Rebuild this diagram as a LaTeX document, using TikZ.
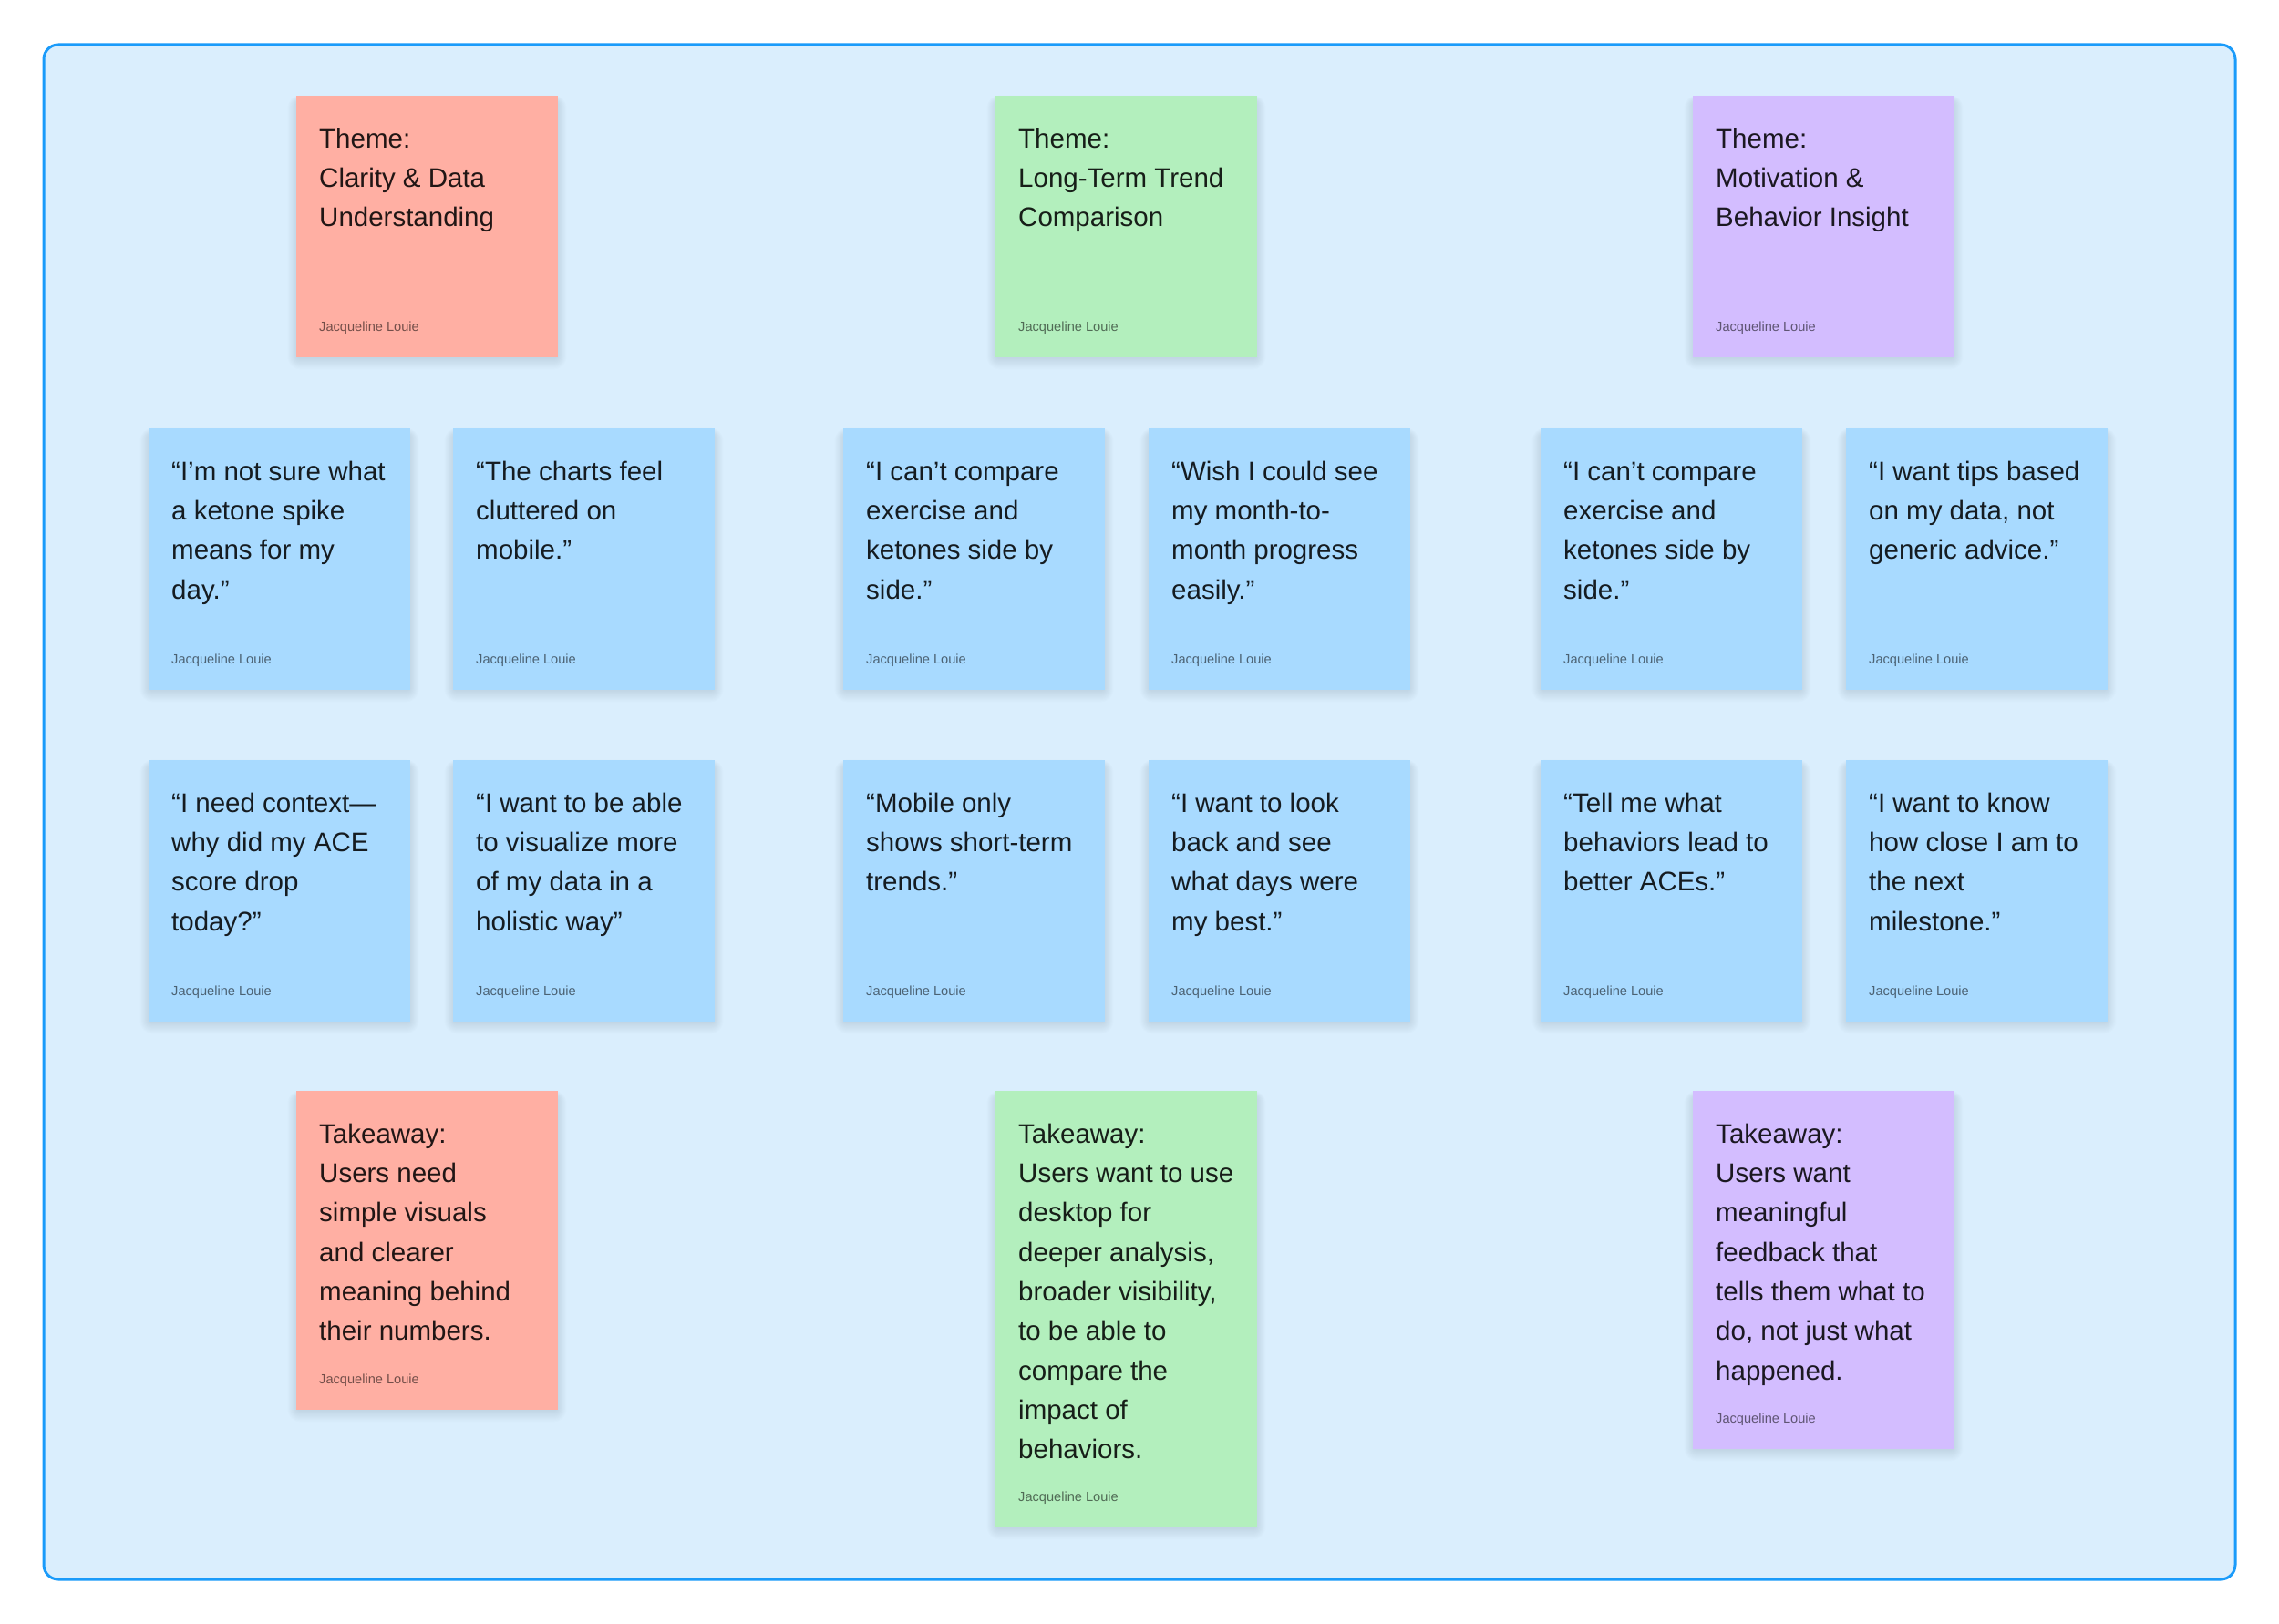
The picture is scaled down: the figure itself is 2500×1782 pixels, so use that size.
\documentclass[tikz,border=0pt]{standalone}
\usepackage{fontspec}
\setmainfont{Liberation Sans}
\definecolor{framefill}{HTML}{DAEEFD}
\definecolor{frameline}{HTML}{1A9BFA}
\definecolor{stRed}{HTML}{FFAFA3}
\definecolor{stGreen}{HTML}{B3EFBD}
\definecolor{stPurple}{HTML}{D3BDFF}
\definecolor{stBlue}{HTML}{A8DAFF}
\tikzset{
  note/.style={rectangle, inner sep=0pt, minimum width=287pt, draw=none},
  notetext/.style={anchor=north west, inner sep=0pt, align=left,
    font=\fontsize{29.5}{43.3}\selectfont, text=black, text opacity=0.87},
  author/.style={anchor=base west, inner sep=0pt,
    font=\fontsize{14.6}{16}\selectfont, text=black, text opacity=0.55},
  section/.style={fill=framefill, draw=frameline, line width=3pt, rounded corners=16pt},
}
\newcommand\stickynote[6]{%
  \foreach \s in {1,...,14}{\fill[black, opacity=0.0065, rounded corners=\s pt]
    (#2+3-\s*0.9, #3+8-\s*0.6) rectangle (#2+284+\s*0.9, #3+#4-2+\s*1.1);}
  \node[note, fill=#5, minimum height=#4pt, anchor=north west] (#1) at (#2,#3) {};
  \node[notetext] (#1-text) at ([xshift=25pt,yshift=-27pt]#1.north west) {\rule{0pt}{30pt}#6};
  \node[author] (#1-author) at ([xshift=25pt,yshift=29pt]#1.south west) {Jacqueline Louie};
}
\begin{document}
\begin{tikzpicture}[x=1pt,y=-1pt]
\useasboundingbox (0,0) rectangle (2500,1782);
\fill[white] (0,0) rectangle (2500,1782);
\draw[section] (48,49) rectangle (2452,1733);

% themes
\stickynote{th1}{325}{105}{287}{stRed}{Theme:\\Clarity \& Data\\Understanding}
\stickynote{th2}{1092}{105}{287}{stGreen}{Theme:\\Long-Term Trend\\Comparison}
\stickynote{th3}{1857}{105}{287}{stPurple}{Theme:\\Motivation \&\\Behavior Insight}

% row 1
\stickynote{q11}{163}{470}{287}{stBlue}{“I’m not sure what\\a ketone spike\\means for my\\day.”}
\stickynote{q12}{497}{470}{287}{stBlue}{“The charts feel\\cluttered on\\mobile.”}
\stickynote{q13}{925}{470}{287}{stBlue}{“I can’t compare\\exercise and\\ketones side by\\side.”}
\stickynote{q14}{1260}{470}{287}{stBlue}{“Wish I could see\\my month-to-\\month progress\\easily.”}
\stickynote{q15}{1690}{470}{287}{stBlue}{“I can’t compare\\exercise and\\ketones side by\\side.”}
\stickynote{q16}{2025}{470}{287}{stBlue}{“I want tips based\\on my data, not\\generic advice.”}

% row 2
\stickynote{q21}{163}{834}{287}{stBlue}{“I need context—\\why did my ACE\\score drop\\today?”}
\stickynote{q22}{497}{834}{287}{stBlue}{“I want to be able\\to visualize more\\of my data in a\\holistic way”}
\stickynote{q23}{925}{834}{287}{stBlue}{“Mobile only\\shows short-term\\trends.”}
\stickynote{q24}{1260}{834}{287}{stBlue}{“I want to look\\back and see\\what days were\\my best.”}
\stickynote{q25}{1690}{834}{287}{stBlue}{“Tell me what\\behaviors lead to\\better ACEs.”}
\stickynote{q26}{2025}{834}{287}{stBlue}{“I want to know\\how close I am to\\the next\\milestone.”}

% takeaways
\stickynote{tk1}{325}{1197}{350}{stRed}{Takeaway:\\Users need\\simple visuals\\and clearer\\meaning behind\\their numbers.}
\stickynote{tk2}{1092}{1197}{479}{stGreen}{Takeaway:\\Users want to use\\desktop for\\deeper analysis,\\broader visibility,\\to be able to\\compare the\\impact of\\behaviors.}
\stickynote{tk3}{1857}{1197}{393}{stPurple}{Takeaway:\\Users want\\meaningful\\feedback that\\tells them what to\\do, not just what\\happened.}
\end{tikzpicture}
\end{document}
